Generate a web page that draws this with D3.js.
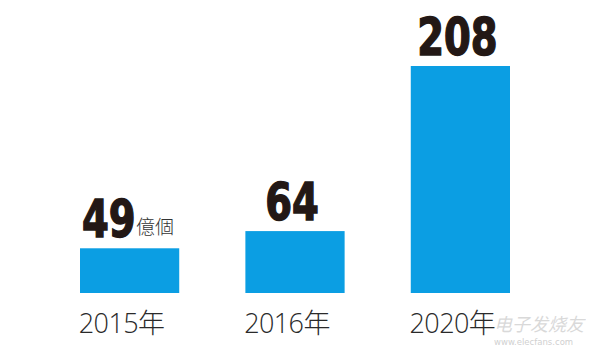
<!DOCTYPE html>
<html>
<head>
<meta charset="utf-8">
<script src="https://cdn.jsdelivr.net/npm/d3@7"></script>
<style>
  html, body { margin: 0; padding: 0; background: #fff; }
  svg { display: block; }
</style>
</head>
<body>
<div id="chart"></div>
<script>
// ---- data ----
const categories = ["2015年", "2016年", "2020年"];
const values = [49, 64, 208];
const valueLabels = ["49", "64", "208"];
const unitLabel = "億個";

const W = 598, H = 356;
const svg = d3.select("#chart").append("svg").attr("width", W).attr("height", H);

const x = d3.scaleBand().domain(categories).range([80, 510]).paddingInner(0.4).paddingOuter(0);
const y = d3.scaleLinear().domain([10, 208]).range([293, 66]);

const barColor = "#0b9ee3";

svg.selectAll("rect.bar").data(values).join("rect")
  .attr("class", "bar")
  .attr("x", (d, i) => x(categories[i]))
  .attr("y", d => y(d))
  .attr("width", x.bandwidth())
  .attr("height", d => y.range()[0] - y(d))
  .attr("fill", barColor);

// value labels (condensed via horizontal scaling)
const vg = svg.selectAll("g.val").data(values).join("g")
  .attr("class", "val")
  .attr("transform", (d, i) => {
    const tx = i === 0 ? x(categories[i]) + 2 : x(categories[i]) + x.bandwidth() / 2 - 3;
    return `translate(${tx},${y(d) - 11}) scale(0.84,1)`;
  });
vg.append("text")
  .attr("text-anchor", (d, i) => i === 0 ? "start" : "middle")
  .attr("font-family", "'DejaVu Sans Condensed', 'DejaVu Sans', sans-serif")
  .attr("font-weight", "bold")
  .attr("font-size", 51)
  .attr("fill", "#231815")
  .attr("stroke", "#231815")
  .attr("stroke-width", 1.4)
  .text((d, i) => valueLabels[i]);

// unit next to first label
svg.append("text")
  .attr("x", x(categories[0]) + 56)
  .attr("y", y(values[0]) - 14)
  .attr("font-family", "'Noto Sans CJK TC', sans-serif")
  .attr("font-weight", 300)
  .attr("font-size", 19)
  .attr("fill", "#333")
  .text(unitLabel);

// category labels
svg.selectAll("text.cat").data(categories).join("text")
  .attr("class", "cat")
  .attr("x", d => x(d) + x.bandwidth() / 2 - 8)
  .attr("y", 333)
  .attr("text-anchor", "middle")
  .attr("font-family", "'Open Sans', 'Noto Sans CJK JP', sans-serif")
  .attr("font-weight", 300)
  .attr("font-size", 27)
  .attr("letter-spacing", -0.6)
  .attr("fill", "#2a2a2a")
  .text(d => d);

// watermark
const wm = svg.append("g").attr("opacity", 0.55);
wm.append("text")
  .attr("x", 494).attr("y", 331)
  .attr("font-family", "'Noto Sans CJK SC', sans-serif")
  .attr("font-style", "italic")
  .attr("font-size", 18)
  .attr("fill", "#bbb")
  .text("电子发烧友");
wm.append("text")
  .attr("x", 494).attr("y", 345)
  .attr("font-family", "'DejaVu Sans', sans-serif")
  .attr("font-size", 8.5)
  .attr("fill", "#aaa")
  .text("www.elecfans.com");
</script>
</body>
</html>
